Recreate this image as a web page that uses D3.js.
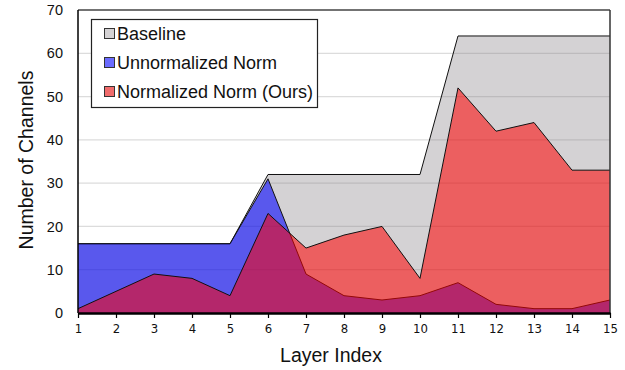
<!DOCTYPE html>
<html><head><meta charset="utf-8">
<script src="https://cdn.jsdelivr.net/npm/d3@7"></script>
<style>body{margin:0;background:#fff}svg{display:block}text{font-family:"Liberation Sans",Arial,sans-serif}</style>
</head><body><svg id="c" width="625" height="370"></svg>
<script>
const layers = [1,2,3,4,5,6,7,8,9,10,11,12,13,14,15];
const baseline = [16,16,16,16,16,32,32,32,32,32,64,64,64,64,64];
const unnormalized = [16,16,16,16,16,31,9,4,3,4,7,2,1,1,3];
const normalized = [1,5,9,8,4,23,15,18,20,8,52,42,44,33,33];
const yTicks = [0,10,20,30,40,50,60,70];
const seriesNames = ["Baseline","Unnormalized Norm","Normalized Norm (Ours)"];

const svg = d3.select("#c");
const L=78,R=610,T=10,B=313;
const x = d3.scaleLinear().domain([1,15]).range([L,R]);
const y = d3.scaleLinear().domain([0,70]).range([B,T]);

// grid
svg.append("g").selectAll("line").data(yTicks.filter(d=>d>0&&d<70)).join("line")
  .attr("x1",L).attr("x2",R).attr("y1",d=>y(d)).attr("y2",d=>y(d))
  .attr("stroke","#dcdcdc").attr("stroke-width",1.2);

const fills = ["rgba(128,122,128,0.34)","rgba(0,0,255,0.58)","rgba(255,0,0,0.55)"];
const data = [baseline,unnormalized,normalized];
const area = d3.area().x((d,i)=>x(layers[i])).y0(y(0)).y1(d=>y(d));
const line = d3.line().x((d,i)=>x(layers[i])).y(d=>y(d));
data.forEach((s,k)=>{
  svg.append("path").attr("d",area(s)).attr("fill",fills[k]);
  svg.append("path").attr("d",line(s)).attr("fill","none").attr("stroke","#111").attr("stroke-width",1);
});
// frame
svg.append("line").attr("x1",L).attr("x2",R).attr("y1",T).attr("y2",T).attr("stroke","#444").attr("stroke-width",1.3);
svg.append("line").attr("x1",R).attr("x2",R).attr("y1",T).attr("y2",B).attr("stroke","#333").attr("stroke-width",1.5);
svg.append("line").attr("x1",L).attr("x2",L).attr("y1",T).attr("y2",B).attr("stroke","#000").attr("stroke-width",1.5);

// x axis
const xa = svg.append("g").attr("transform",`translate(0,${B})`)
  .call(d3.axisBottom(x).tickValues(layers).tickFormat(d3.format("d")).tickSize(5).tickSizeOuter(0));
xa.select(".domain").attr("stroke","#000").attr("stroke-width",2.5);
xa.selectAll(".tick line").attr("stroke","#000").attr("stroke-width",1.2);
xa.selectAll("text").attr("font-size",13).attr("fill","#111").attr("dy","0.95em").style("font-family","'DejaVu Sans Condensed','Liberation Sans',sans-serif");

// y labels
svg.append("g").selectAll("text").data(yTicks).join("text")
  .attr("x",63).attr("y",d=>y(d)).attr("dy","0.35em").attr("text-anchor","end")
  .attr("font-size",14.5).attr("fill","#111").text(d=>d);

// axis titles
svg.append("text").attr("x",331).attr("y",362).attr("text-anchor","middle").attr("font-size",19.5).attr("fill","#111").text("Layer Index");
svg.append("text").attr("transform","translate(33,160) rotate(-90)").attr("text-anchor","middle").attr("font-size",19.5).attr("fill","#111").text("Number of Channels");

// legend
const lg = svg.append("g");
lg.append("rect").attr("x",91.5).attr("y",19.5).attr("width",226).attr("height",88).attr("fill","#fff").attr("stroke","#222").attr("stroke-width",1.2);
const legFill = ["#d4d2d4","#6b6bff","#f06b6b"];
seriesNames.forEach((n,i)=>{
  const cy = 34 + i*29;
  lg.append("rect").attr("x",104.5).attr("y",cy-5.5).attr("width",10).attr("height",10).attr("fill",legFill[i]).attr("stroke","#333").attr("stroke-width",1);
  lg.append("text").attr("x",117).attr("y",cy).attr("dy","0.36em").attr("font-size",18).attr("fill","#111").text(n);
});
</script></body></html>
